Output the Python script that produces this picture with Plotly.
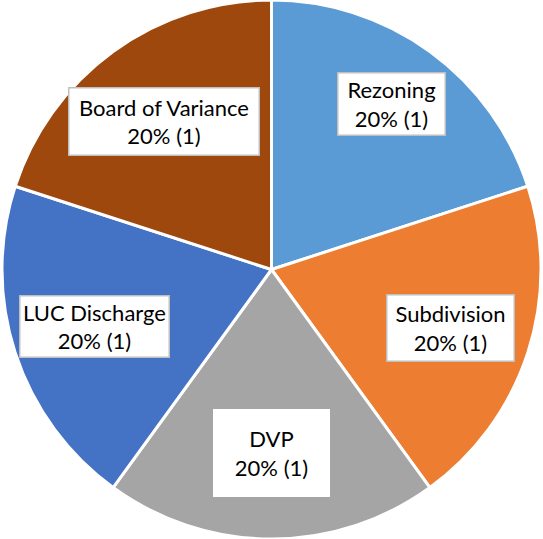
# %%
# imports
import numpy as np
import plotly.graph_objects as go

# %%
# Data
labels = ["Rezoning", "Subdivision", "DVP", "LUC Discharge", "Board of Variance"]
counts = [1, 1, 1, 1, 1]
colors = ["#5B9BD5", "#ED7D31", "#A5A5A5", "#4472C4", "#9E480E"]

W, H = 543, 539

# %%
# pie, clockwise from 12 o'clock like Excel
fig = go.Figure(
    go.Pie(
        labels=labels,
        values=counts,
        sort=False,
        direction="clockwise",
        rotation=0,
        marker=dict(colors=colors, line=dict(color="white", width=3)),
        textinfo="none",
        hoverinfo="label+percent+value",
        domain=dict(x=[0, 1], y=[0, 1]),
    )
)

# %%
# data labels in white boxes, placed along each slice's middle angle
total = sum(counts)
cum = np.cumsum([0] + counts[:-1])
mid_frac = (cum + np.array(counts) / 2) / total
label_r = [0.76, 0.70, 0.68, 0.69, 0.68]  # how far out each box sits
box_w = [108, 128, 116, 150, 191]
box_h = [63, 67, 87, 62, 68]
border = ["#BFBFBF", "#BFBFBF", "white", "#BFBFBF", "#BFBFBF"]

R = min(W, H) / 2
cx, cy = W / 2, H / 2
for i, lab in enumerate(labels):
    ang = np.pi / 2 - 2 * np.pi * mid_frac[i]
    px = cx + label_r[i] * R * np.cos(ang)
    py = cy - label_r[i] * R * np.sin(ang)
    pct = counts[i] / total * 100
    fig.add_annotation(
        x=px / W,
        y=1 - py / H,
        xref="paper",
        yref="paper",
        xanchor="center",
        yanchor="middle",
        text=f"{lab}<br>{pct:.0f}% ({counts[i]})",
        showarrow=False,
        align="center",
        width=box_w[i] - 4,
        height=box_h[i] - 4,
        bgcolor="white",
        bordercolor=border[i],
        borderwidth=1.5,
        borderpad=1,
        font=dict(family="Lato, Carlito, sans-serif", size=22, color="black"),
    )

fig.update_layout(
    width=W,
    height=H,
    margin=dict(l=0, r=0, t=0, b=0),
    showlegend=False,
    paper_bgcolor="white",
)

# drop the browser's default body margin so the chart sits at the top-left
fig.write_html(
    "out.html",
    config={"displayModeBar": False},
    post_script="document.body.style.margin='0';",
)
